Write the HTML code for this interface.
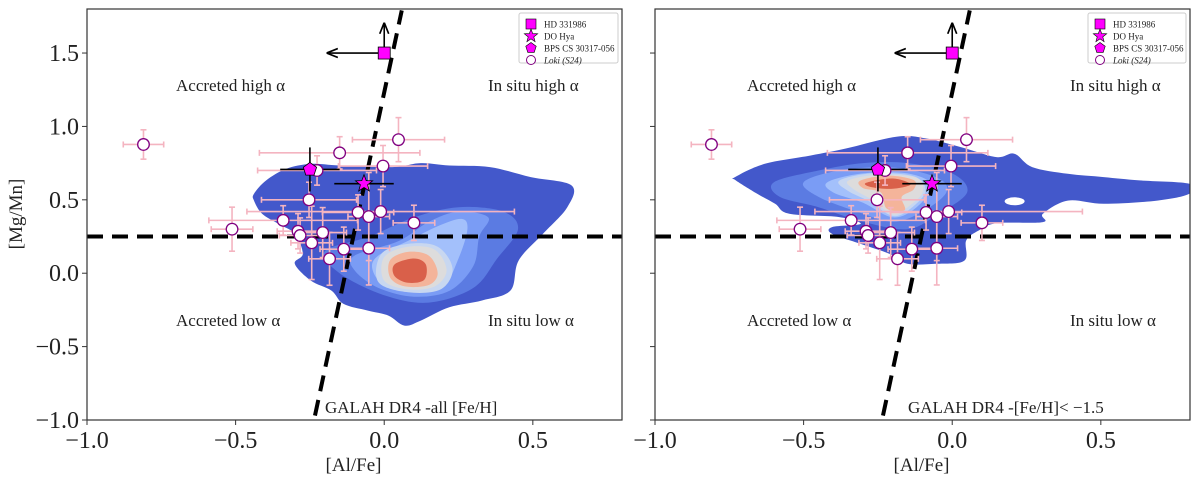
<!DOCTYPE html>
<html><head><meta charset="utf-8"><style>
html,body{margin:0;padding:0;background:#fff;}
svg{display:block;font-family:"Liberation Serif",serif;}
</style></head><body>
<svg id="chart" width="1200" height="480" viewBox="0 0 1200 480" xmlns="http://www.w3.org/2000/svg"></svg>
<script>
// ---- data ----
const xTicks=[-1.0,-0.5,0.0,0.5];
const xTickLabels=["\u22121.0","\u22120.5","0.0","0.5"];
const yTicks=[-1.0,-0.5,0.0,0.5,1.0,1.5];
const yTickLabels=["\u22121.0","\u22120.5","0.0","0.5","1.0","1.5"];
const lokiX=[-0.81,0.048,-0.15,-0.226,-0.004,-0.253,-0.088,-0.052,-0.012,0.10,-0.512,-0.34,-0.29,-0.283,-0.207,-0.244,-0.184,-0.136,-0.052];
const lokiY=[0.877,0.91,0.82,0.70,0.73,0.50,0.414,0.386,0.42,0.343,0.30,0.36,0.286,0.257,0.277,0.207,0.098,0.164,0.17];
const lokiXerr=[0.068,0.155,0.27,0.2,0.15,0.16,0.12,0.07,0.45,0.07,0.07,0.25,0.07,0.07,0.08,0.07,0.07,0.08,0.07];
const lokiYerr=[0.1,0.15,0.11,0.1,0.14,0.12,0.12,0.3,0.15,0.12,0.15,0.1,0.12,0.12,0.17,0.25,0.18,0.15,0.25];
const hdPoint=[0.0,1.5], hdArrowUp=1.7, hdArrowLeft=-0.19;
const doHya=[-0.068,0.61], doHyaXerr=0.1, doHyaYerr=0.05;
const bps=[-0.25,0.707], bpsXerr=0.1, bpsYerr=0.15;
const hLineY=0.25;
const slopeLine=[[-0.233,-0.97],[0.059,1.79]];
const contourColors=["#4358cb","#5b7be2","#7a9cf5","#a3c0fb","#c8d7f0","#dddcdc","#f4b49a","#d9604a"];
const leftContours=[
 [[-0.438,0.541],[-0.397,0.632],[-0.329,0.711],[-0.247,0.745],[-0.151,0.734],[0.027,0.723],[0.123,0.75],[0.219,0.734],[0.356,0.723],[0.493,0.655],[0.63,0.598],[0.616,0.45],[0.534,0.268],[0.452,0.086],[0.425,-0.118],[0.329,-0.186],[0.219,-0.232],[0.123,-0.323],[0.068,-0.357],[0.014,-0.289],[-0.055,-0.255],[-0.137,-0.209],[-0.178,-0.118],[-0.247,-0.05],[-0.301,0.064],[-0.274,0.132],[-0.301,0.268],[-0.356,0.336],[-0.411,0.405],[-0.438,0.495]],
 [[-0.2,0.15],[-0.05,0.25],[0.1,0.38],[0.25,0.45],[0.4,0.42],[0.45,0.3],[0.38,0.1],[0.3,-0.1],[0.15,-0.2],[0.0,-0.15],[-0.15,0.0]],
 [[-0.1,0.12],[0.05,0.22],[0.15,0.35],[0.25,0.42],[0.35,0.38],[0.32,0.25],[0.3,0.05],[0.22,-0.12],[0.1,-0.16],[-0.02,-0.1],[-0.1,0.02]],
 [[-0.02,0.12],[0.08,0.22],[0.18,0.32],[0.26,0.37],[0.28,0.3],[0.25,0.1],[0.2,-0.08],[0.1,-0.12],[0.0,-0.08],[-0.04,0.03]],
 [[-0.01,0.13],[0.08,0.2],[0.18,0.18],[0.23,0.03],[0.19,-0.11],[0.08,-0.13],[-0.02,-0.06]],
 [[0.0,0.11],[0.08,0.18],[0.17,0.16],[0.21,0.02],[0.17,-0.09],[0.08,-0.11],[0.0,-0.05]],
 [[0.02,0.09],[0.08,0.145],[0.15,0.12],[0.18,0.0],[0.15,-0.08],[0.07,-0.09],[0.02,-0.03]],
 [[0.035,0.06],[0.1,0.1],[0.14,0.06],[0.135,-0.045],[0.08,-0.065],[0.035,-0.02]]
];
const rightContours=[
 [[-0.731,0.655],[-0.632,0.745],[-0.476,0.802],[-0.356,0.85],[-0.188,0.93],[-0.091,0.92],[0.029,0.859],[0.149,0.791],[0.209,0.814],[0.269,0.723],[0.389,0.677],[0.51,0.655],[0.63,0.632],[0.798,0.609],[0.798,0.541],[0.69,0.495],[0.51,0.473],[0.389,0.495],[0.305,0.405],[0.305,0.348],[0.149,0.341],[0.089,0.291],[0.047,0.223],[0.041,0.086],[-0.055,0.064],[-0.151,0.064],[-0.212,0.132],[-0.308,0.2],[-0.404,0.268],[-0.404,0.314],[-0.308,0.336],[-0.38,0.382],[-0.548,0.405],[-0.596,0.473],[-0.656,0.541],[-0.728,0.632]],
 [[-0.6,0.62],[-0.45,0.7],[-0.3,0.75],[-0.15,0.75],[0.0,0.68],[0.05,0.55],[-0.05,0.4],[-0.15,0.3],[-0.3,0.35],[-0.45,0.45],[-0.58,0.52]],
 [[-0.5,0.62],[-0.38,0.7],[-0.2,0.72],[-0.05,0.65],[-0.02,0.55],[-0.1,0.42],[-0.2,0.35],[-0.32,0.42],[-0.45,0.52]],
 [[-0.42,0.62],[-0.3,0.68],[-0.15,0.68],[-0.07,0.6],[-0.12,0.45],[-0.2,0.38],[-0.3,0.48],[-0.4,0.55]],
 [[-0.38,0.63],[-0.27,0.68],[-0.13,0.66],[-0.09,0.56],[-0.14,0.44],[-0.2,0.39],[-0.28,0.49],[-0.35,0.56]],
 [[-0.35,0.63],[-0.25,0.67],[-0.12,0.65],[-0.1,0.55],[-0.15,0.45],[-0.2,0.4],[-0.27,0.5],[-0.33,0.57]],
 [[-0.31,0.63],[-0.22,0.665],[-0.13,0.635],[-0.13,0.57],[-0.17,0.52],[-0.16,0.43],[-0.22,0.44],[-0.24,0.55],[-0.3,0.58]],
 [[-0.29,0.615],[-0.2,0.645],[-0.14,0.605],[-0.2,0.575],[-0.27,0.585]]
];
const panels=[
 {name:"left",x0:87,x1:622,contours:leftContours,label:"GALAH DR4 -all [Fe/H]",labelX:325,showYLabels:true},
 {name:"right",x0:655,x1:1190,contours:rightContours,label:"GALAH DR4 -[Fe/H]< \u22121.5",labelX:908,showYLabels:false}
];
// ---- drawing ----
const NS="http://www.w3.org/2000/svg";
const svg=document.getElementById('chart');
const Y0=9,Y1=420,XMIN=-1.0,XMAX=0.8,YMIN=-1.0,YMAX=1.8;
function mk(tag,attrs,parent){const e=document.createElementNS(NS,tag);for(const k in attrs)e.setAttribute(k,attrs[k]);(parent||svg).appendChild(e);return e;}
function smooth(pts){let d="";const n=pts.length;for(let i=0;i<n;i++){const p0=pts[(i-1+n)%n],p1=pts[i],p2=pts[(i+1)%n],p3=pts[(i+2)%n];if(i===0)d+="M"+p1[0]+","+p1[1];const c1=[p1[0]+(p2[0]-p0[0])/6,p1[1]+(p2[1]-p0[1])/6],c2=[p2[0]-(p3[0]-p1[0])/6,p2[1]-(p3[1]-p1[1])/6];d+="C"+c1[0]+","+c1[1]+" "+c2[0]+","+c2[1]+" "+p2[0]+","+p2[1];}return d+"Z";}
function star(cx,cy,r){let p=[];for(let i=0;i<10;i++){const a=-Math.PI/2+i*Math.PI/5,rr=i%2?r*0.42:r;p.push((cx+rr*Math.cos(a)).toFixed(1)+","+(cy+rr*Math.sin(a)).toFixed(1));}return p.join(" ");}
function pent(cx,cy,r){let p=[];for(let i=0;i<5;i++){const a=-Math.PI/2+i*2*Math.PI/5;p.push((cx+r*Math.cos(a)).toFixed(1)+","+(cy+r*Math.sin(a)).toFixed(1));}return p.join(" ");}
mk('defs',{}).innerHTML='<marker id="ah" viewBox="0 0 10 10" refX="9" refY="5" markerWidth="7" markerHeight="7" orient="auto"><path d="M0,1 L10,5 L0,9" fill="none" stroke="#000" stroke-width="1.5"/></marker>';
panels.forEach(P=>{
 const sx=v=>P.x0+(v-XMIN)/(XMAX-XMIN)*(P.x1-P.x0);
 const sy=v=>Y1-(v-YMIN)/(YMAX-YMIN)*(Y1-Y0);
 const g=mk('g',{});
 
 
 const cp=mk('clipPath',{id:'clip-'+P.name},g);mk('rect',{x:P.x0,y:Y0,width:P.x1-P.x0,height:Y1-Y0},cp);
 const cg=mk('g',{'clip-path':'url(#clip-'+P.name+')'},g);
 P.contours.forEach((poly,i)=>{
  const path=mk('path',{d:smooth(poly.map(p=>[sx(p[0]).toFixed(1),sy(p[1]).toFixed(1)].map(Number))),fill:contourColors[i]},cg);
  
  
 });
 if(P.name==='right'){const h=mk('ellipse',{cx:sx(0.21),cy:sy(0.49),rx:10,ry:4,fill:'#fff'},cg);}
 const hl=mk('line',{x1:P.x0,x2:P.x1,y1:sy(hLineY),y2:sy(hLineY),stroke:'#000','stroke-width':4,'stroke-dasharray':'16,9'},cg);
 
 const sl=mk('line',{x1:sx(slopeLine[0][0]),y1:sy(slopeLine[0][1]),x2:sx(slopeLine[1][0]),y2:sy(slopeLine[1][1]),stroke:'#000','stroke-width':4,'stroke-dasharray':'16,9'},cg);
 
 lokiX.forEach((x,i)=>{
  const eb=mk('g',{stroke:'#f4b4c0','stroke-width':1.6},cg);
  
  const X=sx(x),Y=sy(lokiY[i]),xl=sx(x-lokiXerr[i]),xr=sx(x+lokiXerr[i]),yt=sy(lokiY[i]+lokiYerr[i]),yb=sy(lokiY[i]-lokiYerr[i]);
  mk('line',{x1:xl,x2:xr,y1:Y,y2:Y},eb);mk('line',{x1:X,x2:X,y1:yt,y2:yb},eb);
  mk('line',{x1:xl,x2:xl,y1:Y-3,y2:Y+3},eb);mk('line',{x1:xr,x2:xr,y1:Y-3,y2:Y+3},eb);
  mk('line',{x1:X-3,x2:X+3,y1:yt,y2:yt},eb);mk('line',{x1:X-3,x2:X+3,y1:yb,y2:yb},eb);
 });
 const se=mk('g',{stroke:'#000','stroke-width':1.6},cg);
 
 mk('line',{x1:sx(doHya[0]-doHyaXerr),x2:sx(doHya[0]+doHyaXerr),y1:sy(doHya[1]),y2:sy(doHya[1])},se);
 mk('line',{x1:sx(doHya[0]),x2:sx(doHya[0]),y1:sy(doHya[1]+doHyaYerr),y2:sy(doHya[1]-doHyaYerr)},se);
 mk('line',{x1:sx(bps[0]-bpsXerr),x2:sx(bps[0]+bpsXerr),y1:sy(bps[1]),y2:sy(bps[1])},se);
 mk('line',{x1:sx(bps[0]),x2:sx(bps[0]),y1:sy(bps[1]+bpsYerr),y2:sy(bps[1]-bpsYerr)},se);
 mk('line',{x1:sx(hdPoint[0]),x2:sx(hdPoint[0]),y1:sy(hdPoint[1]),y2:sy(hdArrowUp),'marker-end':'url(#ah)'},se);
 mk('line',{x1:sx(hdPoint[0]),x2:sx(hdArrowLeft),y1:sy(hdPoint[1]),y2:sy(hdPoint[1]),'marker-end':'url(#ah)'},se);
 lokiX.forEach((x,i)=>{
  const c=mk('circle',{cx:sx(x),cy:sy(lokiY[i]),r:5.8,fill:'#fff',stroke:'#800080','stroke-width':1.3},cg);
  
 });
 const sq=mk('rect',{x:sx(hdPoint[0])-6,y:sy(hdPoint[1])-6,width:12,height:12,fill:'#ff00ff',stroke:'#000','stroke-width':0.8},cg);
 
 const st=mk('polygon',{points:star(sx(doHya[0]),sy(doHya[1]),9),fill:'#ff00ff',stroke:'#000','stroke-width':0.8},cg);
 
 const pe=mk('polygon',{points:pent(sx(bps[0]),sy(bps[1]),7),fill:'#ff00ff',stroke:'#000','stroke-width':0.8},cg);
 
 const fr=mk('rect',{x:P.x0,y:Y0,width:P.x1-P.x0,height:Y1-Y0,fill:'none',stroke:'#333','stroke-width':1.2},g);
 
 xTicks.forEach((v,i)=>{
  mk('line',{x1:sx(v),x2:sx(v),y1:Y1,y2:Y1+5,stroke:'#333','stroke-width':1},g);
  const t=mk('text',{x:sx(v),y:Y1+28,'text-anchor':'middle','font-size':24,fill:'#222'},g);t.textContent=xTickLabels[i];
  
 });
 yTicks.forEach((v,i)=>{
  mk('line',{x1:P.x0-5,x2:P.x0,y1:sy(v),y2:sy(v),stroke:'#333','stroke-width':1},g);
  if(P.showYLabels){const t=mk('text',{x:P.x0-8,y:sy(v)+8,'text-anchor':'end','font-size':24,fill:'#222'},g);t.textContent=yTickLabels[i];
  }
 });
 const xl=mk('text',{x:(P.x0+P.x1)/2-1,y:471,'text-anchor':'middle','font-size':19,fill:'#222'},g);xl.textContent='[Al/Fe]';
 
 [["Accreted high \u03b1",P.x0+89+(P.name==='right'?3:0),91],["In situ high \u03b1",P.x0+401+(P.name==='right'?14:0),91],["Accreted low \u03b1",P.x0+89+(P.name==='right'?3:0),326],["In situ low \u03b1",P.x0+401+(P.name==='right'?14:0),326]].forEach(r=>{
  const t=mk('text',{x:r[1],y:r[2],'font-size':17,fill:'#222'},g);t.textContent=r[0];
  
 });
 const gl=mk('text',{x:P.labelX,y:413,'font-size':17,fill:'#222'},g);gl.textContent=P.label;
 
 const lx=P.name==='left'?519:1088, lw=P.name==='left'?99:98;
 const lg=mk('g',{},g);
 mk('rect',{x:lx,y:13,width:lw,height:50,fill:'#fff',stroke:'#ccc','stroke-width':1,rx:2},lg);
 const ent=["HD 331986","DO Hya","BPS CS 30317-056","Loki (S24)"];
 ent.forEach((e,i)=>{
  const yy=24+i*12, mx=lx+12;
  if(i===0)mk('rect',{x:mx-5,y:yy-5,width:10,height:10,fill:'#ff00ff',stroke:'#000','stroke-width':0.6},lg);
  if(i===1)mk('polygon',{points:star(mx,yy,7),fill:'#ff00ff',stroke:'#000','stroke-width':0.6},lg);
  if(i===2)mk('polygon',{points:pent(mx,yy,5.5),fill:'#ff00ff',stroke:'#000','stroke-width':0.6},lg);
  if(i===3)mk('circle',{cx:mx,cy:yy,r:4.5,fill:'#fff',stroke:'#800080','stroke-width':1},lg);
  const t=mk('text',{x:mx+13,y:yy+3.5,'font-size':9,fill:'#222','font-style':i===3?'italic':'normal'},lg);
  t.textContent=e;
  
 });
});
const yl=mk('text',{x:0,y:0,'text-anchor':'middle','font-size':19,fill:'#222',transform:'translate(22,214) rotate(-90)'});
yl.textContent='[Mg/Mn]';


</script>
</body></html>
